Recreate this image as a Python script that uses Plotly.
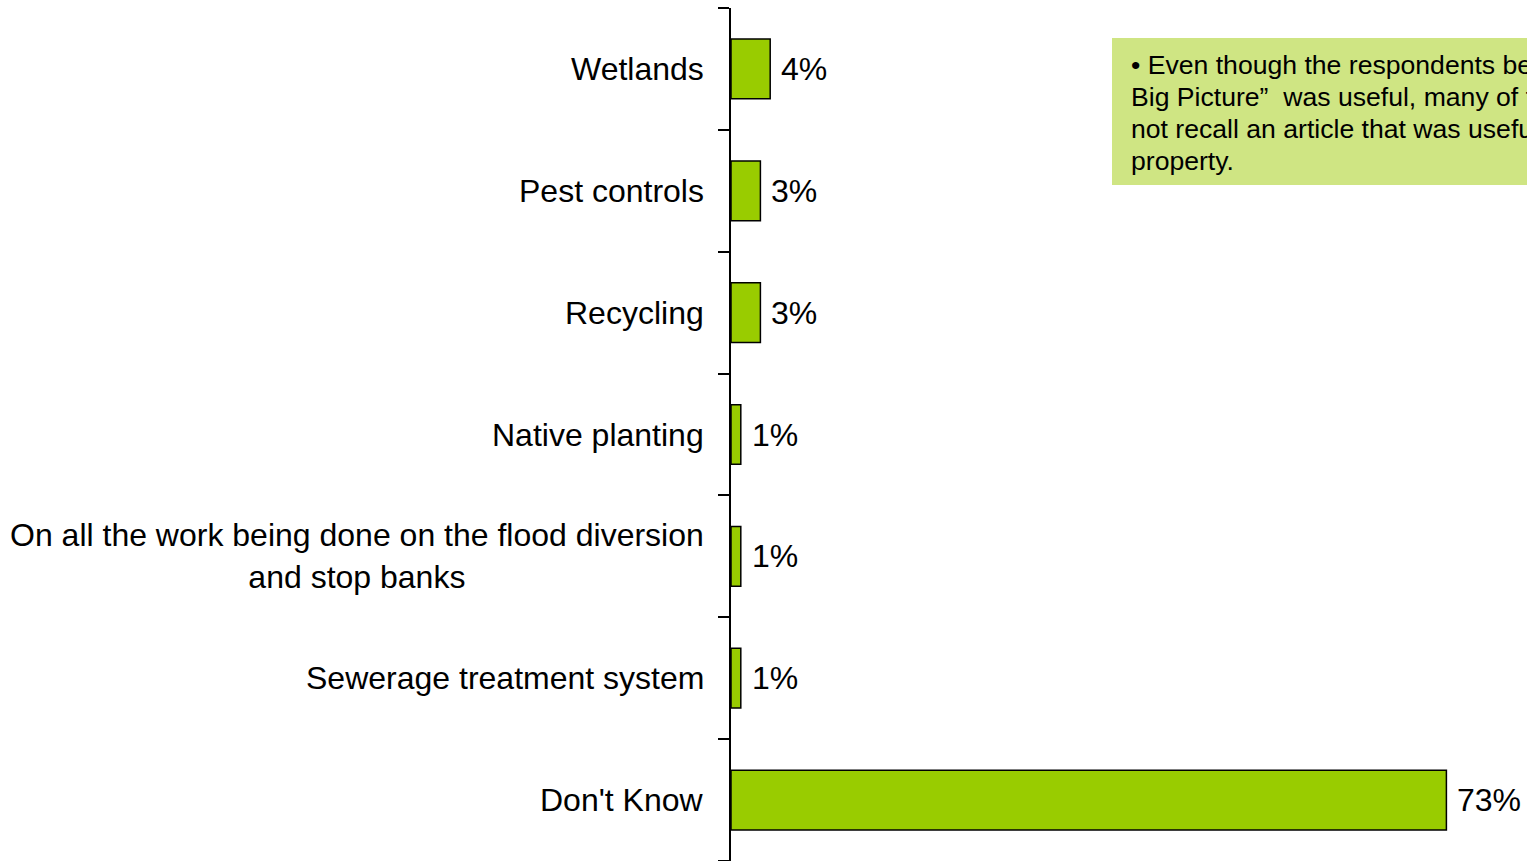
import plotly.graph_objects as go

categories = [
    "Wetlands",
    "Pest controls",
    "Recycling",
    "Native planting",
    "On all the work being done on the flood diversion<br>and stop banks",
    "Sewerage treatment system",
    "Don't Know",
]
values = [4, 3, 3, 1, 1, 1, 73]
value_labels = ["4%", "3%", "3%", "1%", "1%", "1%", "73%"]

note_lines = [
    "\u2022 Even though the respondents believed \u201cThe",
    "Big Picture\u201d  was useful, many of them could",
    "not recall an article that was useful to their",
    "property.",
]

W, H = 1527, 861
ML, MR, MT, MB = 731, 0, 8, 0
px_per_unit = 9.8
xmax = (W - ML - MR) / px_per_unit

idx = list(range(len(categories)))

fig = go.Figure()
fig.add_trace(go.Bar(
    y=idx, x=values, orientation="h",
    marker=dict(color="#99CC00", line=dict(color="#000000", width=1.5)),
    width=0.49,
    hoverinfo="skip",
))

font = dict(family="Liberation Sans, Arial, sans-serif", size=32, color="#000000")

annotations = []
for i, c in enumerate(categories):
    annotations.append(dict(
        x=0, xref="paper", y=i, yref="y", text=c, showarrow=False,
        xanchor="right", yanchor="middle", align="center", xshift=-25,
        font=font,
    ))
for i, (v, lab) in enumerate(zip(values, value_labels)):
    annotations.append(dict(
        x=v, xref="x", y=i, yref="y", text=lab, showarrow=False,
        xanchor="left", yanchor="middle", xshift=9, font=font,
    ))

plot_w = W - ML - MR
plot_h = H - MT - MB
def px_x(p):
    return (p - ML) / plot_w
def px_y(p):
    return 1 - (p - MT) / plot_h

shapes = [dict(
    type="rect", xref="paper", yref="paper",
    x0=px_x(1112), x1=px_x(1560), y0=px_y(185), y1=px_y(38),
    fillcolor="#CFE583", line=dict(width=0), layer="below",
)]
for k, line in enumerate(note_lines):
    annotations.append(dict(
        x=px_x(1129), xref="paper", y=px_y(65 + 32 * k), yref="paper",
        text=line, showarrow=False,
        xanchor="left", yanchor="middle", align="left",
        font=dict(family="Liberation Sans, Arial, sans-serif", size=26.6, color="#000000"),
    ))

fig.update_layout(
    width=W, height=H,
    margin=dict(l=ML, r=MR, t=MT, b=MB, pad=0),
    paper_bgcolor="white", plot_bgcolor="white",
    showlegend=False,
    bargap=0.5,
    xaxis=dict(range=[0, xmax], visible=False, fixedrange=True),
    yaxis=dict(
        range=[len(categories) - 0.5, -0.5],
        tickmode="array",
        tickvals=[i - 0.5 for i in range(len(categories) + 1)],
        ticktext=[""] * (len(categories) + 1),
        ticks="outside", ticklen=11, tickwidth=2, tickcolor="#000000",
        showline=True, linecolor="#000000", linewidth=2,
        showgrid=False, zeroline=False, fixedrange=True,
    ),
    shapes=shapes,
    annotations=annotations,
)

fig.write_html(
    "out.html",
    config={"displayModeBar": False},
    post_script="document.body.style.margin='0';document.body.style.overflow='hidden';",
)
